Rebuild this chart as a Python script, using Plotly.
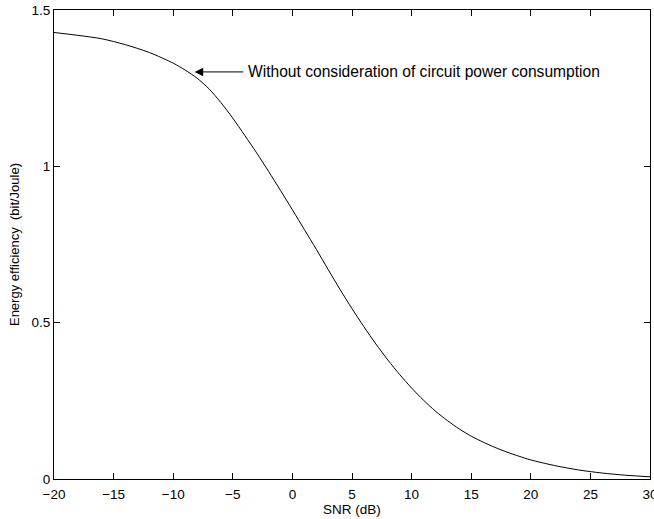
import plotly.graph_objects as go

snr_db = [-20, -18, -16, -14, -12, -10, -9, -8, -7, -6, -5, -4, -3, -2, -1,
          0, 1, 2, 3, 4, 5, 6, 7, 8, 9, 10, 11, 12, 13, 14, 15, 16, 17, 18, 19,
          20, 22, 24, 26, 28, 30]
energy_eff = [1.428, 1.419, 1.408, 1.389, 1.364, 1.330, 1.308, 1.282, 1.248, 1.204,
              1.154, 1.099, 1.043, 0.984, 0.923, 0.861, 0.798, 0.735, 0.670, 0.606,
              0.545, 0.487, 0.432, 0.381, 0.334, 0.291, 0.252, 0.217, 0.187, 0.160,
              0.137, 0.118, 0.101, 0.086, 0.073, 0.061, 0.043, 0.029, 0.019, 0.012, 0.007]

x_ticks = [-20, -15, -10, -5, 0, 5, 10, 15, 20, 25, 30]
y_ticks = [0, 0.5, 1, 1.5]
y_ticktext = ["0", "0.5", "1", "1.5"]

note_text = "Without consideration of circuit power consumption"
note_tip = (-8.2, 1.302)
note_tail_x = -4.0

FONT = "Liberation Sans, Arial, Helvetica, sans-serif"

fig = go.Figure()
fig.add_trace(go.Scatter(x=snr_db, y=energy_eff, mode="lines",
                         line=dict(color="black", width=1, shape="spline", smoothing=0.8),
                         showlegend=False, hoverinfo="skip"))

fig.add_annotation(x=note_tip[0], y=note_tip[1], ax=note_tail_x, ay=note_tip[1],
                   xref="x", yref="y", axref="x", ayref="y", text="",
                   showarrow=True, arrowhead=2, arrowsize=1.7, arrowwidth=1,
                   arrowcolor="black")
fig.add_annotation(x=note_tail_x, y=note_tip[1], xref="x", yref="y",
                   text=note_text, showarrow=False, xanchor="left", yanchor="middle",
                   xshift=1, font=dict(family=FONT, size=15.6, color="black"))

axis_common = dict(showline=True, linecolor="black", linewidth=1, mirror="ticks",
                   ticks="inside", ticklen=6, tickcolor="black", tickwidth=1,
                   showgrid=False, zeroline=False, automargin=False,
                   tickfont=dict(family=FONT, size=13.5, color="black"))

fig.update_xaxes(range=[-20, 30], tickvals=x_ticks, ticklabeloverflow="allow",
                 ticklabelstandoff=3,
                 title=dict(text="SNR (dB)", font=dict(family=FONT, size=13.5, color="black"), standoff=3),
                 **axis_common)
fig.update_yaxes(range=[0, 1.5], tickvals=y_ticks, ticktext=y_ticktext,
                 title=dict(text="Energy efficiency\u00a0\u00a0(bit/Joule)",
                            font=dict(family=FONT, size=13, color="black"), standoff=8),
                 **axis_common)

fig.update_layout(width=654, height=519, margin=dict(l=54, r=4, t=10, b=40),
                  plot_bgcolor="white", paper_bgcolor="white",
                  font=dict(family=FONT, color="black"))

fig.write_html("out.html")
